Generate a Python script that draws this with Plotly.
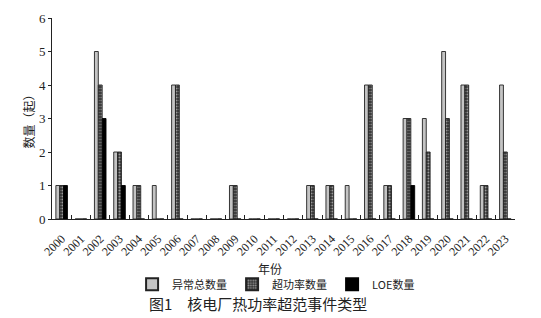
import plotly.graph_objects as go

years = [str(y) for y in range(2000, 2024)]
total = [1,0,5,2,1,1,4,0,0,1,0,0,0,1,1,1,4,1,3,3,5,4,1,4]
overpower = [1,0,4,2,1,0,4,0,0,1,0,0,0,1,1,0,4,1,3,2,3,4,1,2]
loe = [1,0,3,1,0,0,0,0,0,0,0,0,0,0,0,0,0,0,1,0,0,0,0,0]

names = ["异常总数量", "超功率数量", "LOE数量"]
x_title = "年份"
y_title = "数量（起）"
caption = "图1\u3000核电厂热功率超范事件类型"

serif = "Liberation Serif, Times New Roman, serif"
cjk = "Noto Sans CJK SC"
ink = "#222"

fig = go.Figure()
fig.add_trace(go.Bar(x=years, y=total, name=names[0],
                     marker=dict(color="#c4c4c4", line=dict(color="#222", width=0.9))))
fig.add_trace(go.Bar(x=years, y=overpower, name=names[1],
                     marker=dict(color="#444", line=dict(color="#222", width=0.9),
                                 pattern=dict(shape=".", fgcolor="white", bgcolor="#333",
                                              size=3, solidity=0.4))))
fig.add_trace(go.Bar(x=years, y=loe, name=names[2],
                     marker=dict(color="black", line=dict(color="black", width=0.9))))

fig.update_layout(
    width=541, height=318,
    margin=dict(l=52, r=26, t=18, b=99),
    paper_bgcolor="white", plot_bgcolor="white",
    barmode="group", bargap=0.4, bargroupgap=0,
    font=dict(family=serif, size=12, color=ink),
    showlegend=True,
    legend=dict(orientation="h", x=0.484, xanchor="center", y=-0.325, yanchor="middle",
                font=dict(family=cjk, size=11, color=ink), itemwidth=30,
                tracegroupgap=0, itemsizing="constant",
                bgcolor="rgba(0,0,0,0)"),
    annotations=[
        dict(text=x_title, x=0.47, xref="paper", y=-0.245, yref="paper",
             yanchor="middle", showarrow=False,
             font=dict(family=cjk, size=12, color=ink)),
        dict(text=caption, x=0.444, xref="paper", y=-0.42, yref="paper",
             yanchor="middle", showarrow=False,
             font=dict(family=cjk, size=15, color=ink)),
    ],
)
fig.update_xaxes(type="category", showline=True, linecolor=ink, linewidth=1,
                 ticks="inside", tickson="boundaries", ticklen=4, tickcolor=ink,
                 tickangle=-45, ticklabelstandoff=7,
                 tickfont=dict(family=serif, size=12, color=ink))
fig.update_yaxes(range=[0, 6], dtick=1, showline=True, linecolor=ink, linewidth=1,
                 ticks="outside", ticklen=3, tickcolor=ink, showgrid=False, zeroline=False,
                 tickfont=dict(family=serif, size=13, color=ink),
                 title=dict(text=y_title, font=dict(family=cjk, size=12, color=ink),
                            standoff=1))

fig.write_html("out.html")
